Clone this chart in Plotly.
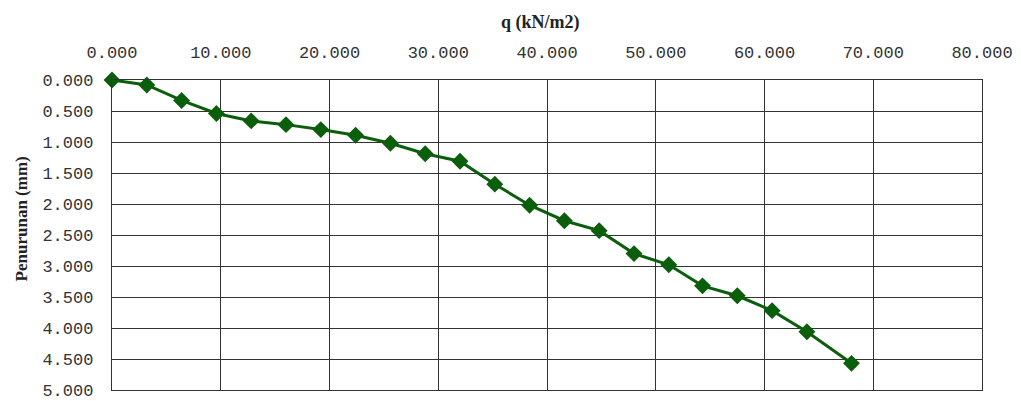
import plotly.graph_objects as go

# Data
q_kn_m2 = [0.0, 3.2, 6.4, 9.6, 12.8, 16.0, 19.2, 22.4, 25.6, 28.8, 32.0,
           35.2, 38.4, 41.6, 44.8, 48.0, 51.2, 54.3, 57.5, 60.7, 63.9, 68.0]
penurunan_mm = [0.00, 0.08, 0.33, 0.54, 0.66, 0.72, 0.80, 0.89, 1.02, 1.19, 1.31,
                1.68, 2.02, 2.27, 2.43, 2.80, 2.98, 3.32, 3.48, 3.72, 4.06, 4.57]
x_title = "q (kN/m2)"
y_title = "Penurunan (mm)"

GREEN = "#0b5e0b"
GRID = "#333333"
TICK_FONT = dict(family="Liberation Mono, DejaVu Sans Mono, monospace", size=17, color="#333333")
X_TITLE_FONT = dict(family="Liberation Serif, serif", size=18, color="#222222")
Y_TITLE_FONT = dict(family="Liberation Serif, serif", size=17, color="#222222")

fig = go.Figure()
fig.add_trace(go.Scatter(
    x=q_kn_m2, y=penurunan_mm, mode="lines+markers",
    line=dict(color=GREEN, width=3),
    marker=dict(symbol="diamond", size=13, color=GREEN),
    showlegend=False, cliponaxis=False,
))

# The page body has an 8px default margin, so the figure is sized to fit
fig.update_layout(
    template="none",
    width=1013, height=393,
    margin=dict(l=104, r=39, t=72, b=11, autoexpand=False),
    paper_bgcolor="white", plot_bgcolor="white",
    xaxis=dict(
        side="top", range=[0, 80], dtick=10, tick0=0, tickformat=".3f",
        showgrid=True, gridcolor=GRID, gridwidth=1.3,
        showline=True, linecolor=GRID, linewidth=1.3, mirror=True,
        zeroline=False, ticks="", tickfont=TICK_FONT, ticklabelstandoff=14,
        automargin=False,
    ),
    yaxis=dict(
        range=[5, 0], dtick=0.5, tick0=0, tickformat=".3f",
        showgrid=True, gridcolor=GRID, gridwidth=1.3,
        showline=True, linecolor=GRID, linewidth=1.3, mirror=True,
        zeroline=False, ticks="", tickfont=TICK_FONT, ticklabelstandoff=14,
        automargin=False,
    ),
    annotations=[
        dict(text="<b>" + y_title + "</b>", textangle=-90,
             xref="paper", yref="paper", x=-0.104, y=0.552,
             xanchor="center", yanchor="middle", showarrow=False,
             font=Y_TITLE_FONT),
        dict(text="<b>" + x_title + "</b>",
             xref="paper", yref="paper", x=0.492, y=1.187,
             xanchor="center", yanchor="middle", showarrow=False,
             font=X_TITLE_FONT),
    ],
)

fig.write_html("out.html")
